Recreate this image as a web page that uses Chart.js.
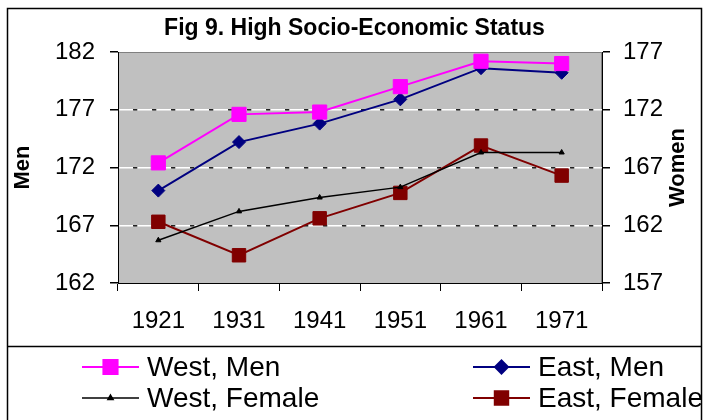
<!DOCTYPE html>
<html>
<head>
<meta charset="utf-8">
<script src="https://cdn.jsdelivr.net/npm/chart.js@4/dist/chart.umd.min.js"></script>
<style>
  html, body { margin: 0; padding: 0; background: #fff; }
  #wrap { width: 709px; height: 420px; position: relative; }
</style>
</head>
<body>
<div id="wrap"><canvas id="fig9"></canvas></div>
<script>
// ── Data ──────────────────────────────────────────────────────────
const years       = ['1921', '1931', '1941', '1951', '1961', '1971'];
const westMen     = [172.4, 176.6, 176.8, 179.0, 181.2, 181.0];
const eastMen     = [170.0, 174.2, 175.8, 177.9, 180.6, 180.2];
const westFemale  = [160.7, 163.2, 164.4, 165.3, 168.3, 168.3];
const eastFemale  = [162.3, 159.4, 162.6, 164.8, 168.9, 166.3];
const menTicks    = [162, 167, 172, 177, 182];
const womenTicks  = [157, 162, 167, 172, 177];

const FONT = "'Liberation Sans', Arial, sans-serif";

// Plot background, outer frame, separator and the two-column legend
const framePlugin = {
  id: 'frame',
  beforeDraw(chart) {
    const { ctx, chartArea: a } = chart;
    ctx.save();
    ctx.fillStyle = '#c0c0c0';
    ctx.fillRect(a.left, a.top, a.right - a.left, a.bottom - a.top);
    ctx.strokeStyle = '#808080';
    ctx.lineWidth = 1;
    ctx.strokeRect(a.left + 0.5, a.top + 0.5, a.right - a.left - 1, a.bottom - a.top);
    ctx.restore();
  },
  afterDraw(chart) {
    const { ctx, width, height } = chart;
    const sepY = chart.scales.x.bottom;
    ctx.save();
    ctx.strokeStyle = '#000';
    ctx.lineWidth = 1.5;
    ctx.strokeRect(7.5, 8.5, width - 15, height);
    ctx.beginPath();
    ctx.moveTo(7.5, sepY + 0.5);
    ctx.lineTo(width - 7.5, sepY + 0.5);
    ctx.stroke();

    // right axis title reads bottom-to-top like the left one
    const y2 = chart.scales.y2;
    ctx.fillStyle = '#000';
    ctx.font = `bold 22px ${FONT}`;
    ctx.textAlign = 'center';
    ctx.textBaseline = 'middle';
    ctx.translate(677.5, (y2.top + y2.bottom) / 2);
    ctx.rotate(-Math.PI / 2);
    ctx.fillText('Women', 0, 0);
    ctx.restore();

    // legend: 2 columns x 2 rows
    const colX = [82, 473];
    const rowY = [sepY + 21, sepY + 52];
    chart.data.datasets.forEach((ds, i) => {
      const x0 = colX[i % 2];
      const y  = rowY[Math.floor(i / 2)];
      ctx.save();
      ctx.strokeStyle = ds.borderColor;
      ctx.lineWidth = ds.borderWidth;
      ctx.beginPath();
      ctx.moveTo(x0, y);
      ctx.lineTo(x0 + 57, y);
      ctx.stroke();
      ctx.fillStyle = ds.pointBackgroundColor;
      ctx.strokeStyle = ds.pointBorderColor;
      Chart.helpers.drawPoint(ctx, {
        pointStyle: ds.pointStyle, radius: ds.pointRadius, rotation: 0, borderWidth: 1,
      }, x0 + 28.5, y);
      ctx.fillStyle = '#000';
      ctx.font = `28px ${FONT}`;
      ctx.textAlign = 'left';
      ctx.textBaseline = 'middle';
      ctx.fillText(ds.label, x0 + 65, y + 1);
      ctx.restore();
    });
  },
};

function series(label, data, color, style, radius, axis, width) {
  return {
    label, data, yAxisID: axis,
    borderColor: color, borderWidth: width,
    pointStyle: style, pointRadius: radius, pointHoverRadius: radius,
    pointBackgroundColor: color, pointBorderColor: color, pointBorderWidth: 1,
    tension: 0, fill: false,
  };
}

const interior = (vals, color) => ctx =>
  (ctx.tick && vals.slice(1, -1).includes(ctx.tick.value)) ? color : 'rgba(0,0,0,0)';

new Chart(document.getElementById('fig9'), {
  type: 'line',
  data: {
    labels: years,
    datasets: [
      series('West, Men',    westMen,    '#ff00ff', 'rect',    10, 'y',  2),
      series('East, Men',    eastMen,    '#000080', 'rectRot', 6.5, 'y', 2),
      series('West, Female', westFemale, '#000000', 'triangle', 3, 'y2', 1.5),
      series('East, Female', eastFemale, '#800000', 'rect',     9.5, 'y2', 2),
    ],
  },
  options: {
    responsive: true,
    maintainAspectRatio: false,
    animation: false,
    events: [],
    layout: { padding: { left: 0, right: 0, top: 0, bottom: 74 } },
    plugins: {
      legend: { display: false },
      tooltip: { enabled: false },
      title: {
        display: true,
        text: 'Fig 9. High Socio-Economic Status',
        color: '#000',
        font: { family: FONT, size: 23, weight: 'bold' },
        padding: { top: 15, bottom: 9.4 },
      },
    },
    scales: {
      x: {
        offset: true,
        afterFit: s => { s.height = 63; },
        grid: { offset: true, color: 'rgba(0,0,0,0)', tickColor: '#000', tickLength: 8 },
        border: { color: '#000', width: 1 },
        ticks: { color: '#000', font: { family: FONT, size: 24 }, padding: 16, autoSkip: false, maxRotation: 0 },
      },
      y: {
        position: 'left',
        min: menTicks[0], max: menTicks[menTicks.length - 1],
        afterFit: s => { s.width = 118; },
        afterBuildTicks: s => { s.ticks = menTicks.map(v => ({ value: v })); },
        grid: { color: interior(menTicks, '#ffffff'), tickColor: '#000', tickLength: 8, lineWidth: 1.5 },
        border: { color: '#000', width: 1, dash: [15, 4] },
        ticks: { color: '#000', font: { family: FONT, size: 24 }, padding: 15 },
        title: {
          display: true, text: 'Men', color: '#000',
          font: { family: FONT, size: 22, weight: 'bold' },
          padding: { top: 9.3, bottom: 0 },
        },
      },
      y2: {
        position: 'right',
        min: womenTicks[0], max: womenTicks[womenTicks.length - 1],
        afterFit: s => { s.width = 107; },
        afterBuildTicks: s => { s.ticks = womenTicks.map(v => ({ value: v })); },
        grid: { color: interior(womenTicks, '#222222'), tickColor: '#000', tickLength: 8, lineWidth: 1.5 },
        border: { color: '#000', width: 1, dash: [4, 15], dashOffset: 4 },
        ticks: { color: '#000', font: { family: FONT, size: 24 }, padding: 13 },
      },
    },
  },
  plugins: [framePlugin],
});
</script>
</body>
</html>
